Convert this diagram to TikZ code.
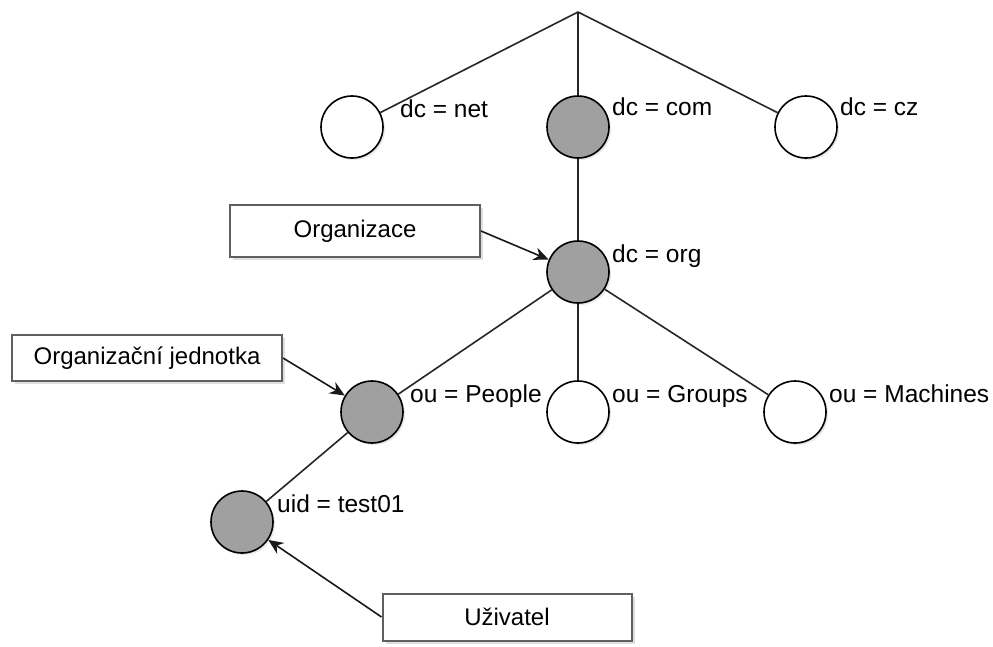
\documentclass[tikz,border=0pt]{standalone}
\usepackage{fontspec}
\setmainfont{Liberation Sans}
\usetikzlibrary{arrows.meta, positioning, calc, shadows}
\definecolor{nodegray}{RGB}{160,160,160}
\definecolor{boxgray}{RGB}{95,95,95}

\begin{document}
\begin{tikzpicture}[
  x=1pt, y=-1pt,
  >={Stealth[length=15pt, width=13pt]},
  entry/.style={draw=black, circle, line width=1.6pt, minimum size=62pt, inner sep=0pt, fill=white,
    drop shadow={shadow xshift=2pt, shadow yshift=-2pt, opacity=0.18}},
  entryon/.style={entry, fill=nodegray},
  notebox/.style={draw=boxgray, rectangle, line width=2pt, fill=white, inner sep=0pt,
    font=\fontsize{24}{28}\selectfont,
    drop shadow={shadow xshift=3pt, shadow yshift=-3pt, opacity=0.25}},
  lbl/.style={anchor=base west, inner sep=0pt, font=\fontsize{24.5}{28}\selectfont},
  link/.style={line width=1.6pt, black!85},
  pointer/.style={->, line width=1.6pt, black!90}
]
\useasboundingbox (0,0) rectangle (993,646);

% DIT root
\coordinate (root) at (578,12);

% top level domains
\node[entry]   (net) at (352,127) {};
\node[entryon] (com) at (578,127) {};
\node[entry]   (cz)  at (806,127) {};

% organisation
\node[entryon] (org) at (578,272) {};

% organisational units
\node[entryon] (people)   at (372,412) {};
\node[entry]   (groups)   at (578,412) {};
\node[entry]   (machines) at (795,412) {};

% user
\node[entryon] (uid) at (242,522) {};

% labels
\node[lbl] (netL)      at ($(net)+(48,-10)$)      {dc = net};
\node[lbl] (comL)      at ($(com)+(34,-12)$)      {dc = com};
\node[lbl] (czL)       at ($(cz)+(34,-12)$)       {dc = cz};
\node[lbl] (orgL)      at ($(org)+(34,-10)$)      {dc = org};
\node[lbl] (peopleL)   at ($(people)+(38,-10)$)   {ou = People};
\node[lbl] (groupsL)   at ($(groups)+(34,-10)$)   {ou = Groups};
\node[lbl] (machinesL) at ($(machines)+(34,-10)$) {ou = Machines};
\node[lbl] (uidL)      at ($(uid)+(35,-10)$)      {uid = test01};

% tree links
\draw[link] (root) -- (net);
\draw[link] (root) -- (com);
\draw[link] (root) -- (cz);
\draw[link] (com) -- (org);
\draw[link] (org) -- (people);
\draw[link] (org) -- (groups);
\draw[link] (org) -- (machines);
\draw[link] (people) -- (uid);

% callouts
\node[notebox, minimum width=250pt, minimum height=52pt] (orgbox) at (355,231) {Organizace};
\node[notebox, minimum width=270pt, minimum height=46pt] (oubox)  at (147,358) {Organizační jednotka};
\node[notebox, minimum width=249pt, minimum height=47pt] (uzbox)  at (507,617) {Uživatel};

\draw[pointer] (orgbox.east) -- (org);
\draw[pointer] (oubox.east) -- (people);
\draw[pointer] (uzbox.west) -- (uid);
\end{tikzpicture}
\end{document}
